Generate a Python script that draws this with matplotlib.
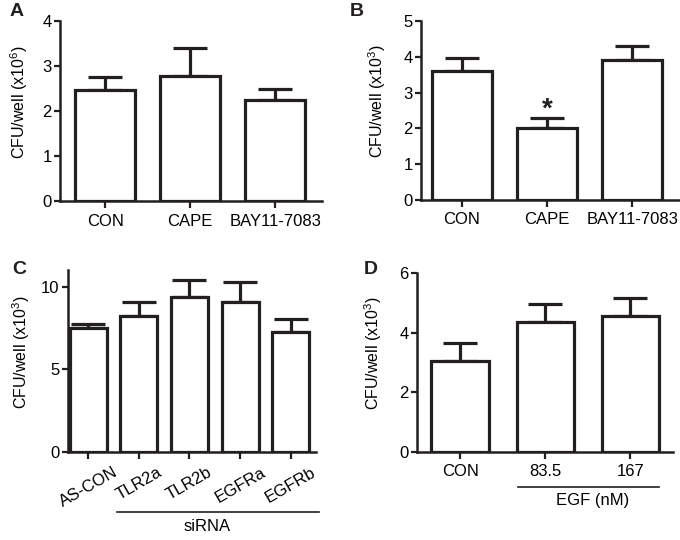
import matplotlib
matplotlib.use('Agg')
import matplotlib.pyplot as plt
import matplotlib.transforms as mtrans

plt.rcParams['font.family'] = ['Liberation Sans', 'DejaVu Sans']
plt.rcParams['mathtext.fontset'] = 'custom'
plt.rcParams['mathtext.rm'] = 'Liberation Sans'
plt.rcParams['mathtext.default'] = 'regular'

# data (mean, upper SEM)
a_labels = ['CON', 'CAPE', 'BAY11-7083']
a_means = [2.47, 2.78, 2.25]
a_err = [0.29, 0.63, 0.25]

b_labels = ['CON', 'CAPE', 'BAY11-7083']
b_means = [3.61, 2.02, 3.90]
b_err = [0.36, 0.26, 0.41]

c_labels = ['AS-CON', 'TLR2a', 'TLR2b', 'EGFRa', 'EGFRb']
c_means = [7.52, 8.22, 9.36, 9.07, 7.27]
c_err = [0.24, 0.84, 1.01, 1.19, 0.77]

d_labels = ['CON', '83.5', '167']
d_means = [3.05, 4.37, 4.57]
d_err = [0.60, 0.60, 0.58]

ink = '#231f20'

fig = plt.figure(figsize=(6.8, 5.4), dpi=100)


def bars(ax, labels, means, err, width, ylim, yticks, ylabel, xlim, rot=0):
    x = list(range(len(labels)))
    ax.bar(x, means, width=width, color='white', edgecolor=ink, linewidth=2.3, zorder=2)
    ax.errorbar(x, means, yerr=[[0] * len(err), err], fmt='none', ecolor=ink,
                elinewidth=2.3, capsize=12, capthick=2.3, zorder=1)
    ax.set_xlim(xlim)
    ax.set_ylim(ylim)
    ax.set_yticks(yticks)
    ax.set_xticks(x)
    if rot:
        ax.set_xticklabels(labels, rotation=rot, ha='center', va='top', fontsize=12)
    else:
        ax.set_xticklabels(labels, fontsize=12)
    ax.tick_params(axis='y', labelsize=12, length=4, width=1.6, color=ink, pad=2)
    ax.tick_params(axis='x', length=5, width=1.6, color=ink, pad=4)
    for s in ['top', 'right']:
        ax.spines[s].set_visible(False)
    for s in ['left', 'bottom']:
        ax.spines[s].set_linewidth(1.8)
        ax.spines[s].set_color(ink)
    ax.set_ylabel(ylabel, fontsize=11.5)


axA = fig.add_axes([60 / 680, 1 - 201 / 540, 262 / 680, 180 / 540])
bars(axA, a_labels, a_means, a_err, 0.7, (0, 4), [0, 1, 2, 3, 4],
     'CFU/well (x10$^{6}$)', (-0.53, 2.55))
axA.yaxis.set_label_coords(-0.115, 0.55)

axB = fig.add_axes([421 / 680, 1 - 200 / 540, 259 / 680, 179 / 540])
bars(axB, b_labels, b_means, b_err, 0.7, (0, 5), [0, 1, 2, 3, 4, 5],
     'CFU/well (x10$^{3}$)', (-0.48, 2.56))
axB.yaxis.set_label_coords(-0.127, 0.55)
axB.text(1, 2.32, '*', ha='center', va='baseline', fontsize=20, fontweight='bold', color=ink)

axC = fig.add_axes([68 / 680, 1 - 452 / 540, 248 / 680, 182 / 540])
bars(axC, c_labels, c_means, c_err, 0.73, (0, 11), [0, 5, 10],
     'CFU/well (x10$^{3}$)', (-0.4, 4.5), rot=30)
axC.yaxis.set_label_coords(-0.145, 0.55)
trC = mtrans.blended_transform_factory(axC.transData, axC.transAxes)
axC.plot([0.57, 4.55], [-0.33, -0.33], color=ink, lw=1.2, transform=trC, clip_on=False)
axC.text(2.34, -0.37, 'siRNA', transform=trC, ha='center', va='top', fontsize=12)

axD = fig.add_axes([417 / 680, 1 - 452 / 540, 256 / 680, 179 / 540])
bars(axD, d_labels, d_means, d_err, 0.68, (0, 6), [0, 2, 4, 6],
     'CFU/well (x10$^{3}$)', (-0.51, 2.5))
axD.yaxis.set_label_coords(-0.127, 0.55)
trD = mtrans.blended_transform_factory(axD.transData, axD.transAxes)
axD.plot([0.68, 2.33], [-0.195, -0.195], color=ink, lw=1.2, transform=trD, clip_on=False)
axD.text(1.55, -0.23, 'EGF (nM)', transform=trD, ha='center', va='top', fontsize=12)

for lab, px, py in [('A', 10, 3), ('B', 350, 3), ('C', 12, 261), ('D', 364, 261)]:
    fig.text(px / 680, 1 - py / 540, lab, ha='left', va='top', fontsize=14,
             fontweight='bold', color=ink)

fig.savefig('out.png', dpi=100)
